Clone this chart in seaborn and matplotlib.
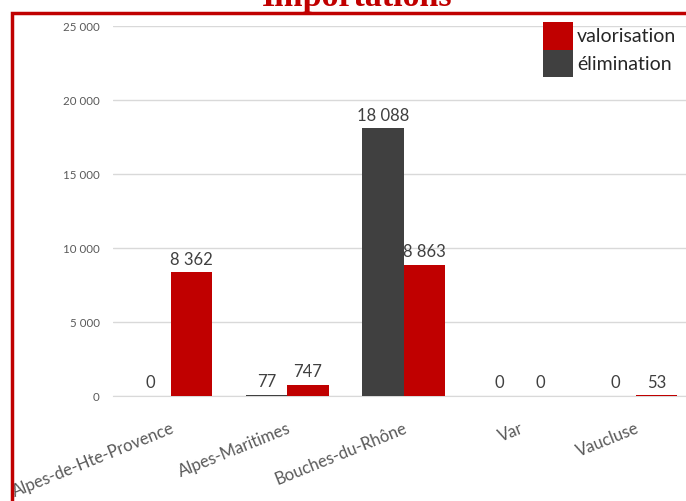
import numpy as np
import pandas as pd
import matplotlib
matplotlib.use('Agg')
import matplotlib.pyplot as plt
import seaborn as sns
from matplotlib.patches import Rectangle

categories = ['Alpes-de-Hte-Provence', 'Alpes-Maritimes', 'Bouches-du-Rhône', 'Var', 'Vaucluse']
elimination = [0, 77, 18088, 0, 0]
valorisation = [8362, 747, 8863, 0, 53]
y_ticks = [0, 5000, 10000, 15000, 20000, 25000]

df = pd.DataFrame({
    'departement': categories * 2,
    'type': ['élimination'] * len(categories) + ['valorisation'] * len(categories),
    'tonnes': elimination + valorisation,
})

RED = '#C00000'
GREY = '#404040'

sns.set_style('white')
plt.rcParams['font.family'] = ['Lato', 'DejaVu Sans']

fig = plt.figure(figsize=(6.86, 5.02), dpi=100)
# axes runs past the right edge, as in the cropped reference
ax = fig.add_axes([113 / 686, 1 - 397 / 502, 581 / 686, 370 / 502])

sns.barplot(data=df, x='departement', y='tonnes', hue='type',
            hue_order=['élimination', 'valorisation'],
            palette={'élimination': GREY, 'valorisation': RED}, saturation=1,
            width=0.71, gap=0, ax=ax, legend=False, zorder=3,
            linewidth=0, edgecolor='none')

fmt = lambda v: f"{v:,.0f}".replace(',', ' ')
for cont in ax.containers:
    ax.bar_label(cont, labels=[fmt(v) for v in cont.datavalues], padding=4,
                 fontsize=12, color=GREY)

ax.set_ylim(0, 25000)
ax.set_xlim(-0.5, 4.5)
ax.set_yticks(y_ticks)
ax.set_yticklabels([fmt(v) for v in y_ticks], fontsize=8.3, color='#595959')
ax.tick_params(axis='y', length=0, pad=9.5)
ax.tick_params(axis='x', length=0, pad=17)
plt.setp(ax.get_xticklabels(), rotation=22, ha='right', va='top', rotation_mode='anchor',
         fontsize=12, color='#595959')
ax.yaxis.grid(True, color='#D9D9D9', linewidth=1, zorder=0)
ax.set_axisbelow(True)
for s in ['top', 'right', 'left']:
    ax.spines[s].set_visible(False)
ax.spines['bottom'].set_color('#D9D9D9')
ax.set_xlabel('')
ax.set_ylabel('')

# legend drawn by hand: square swatches stacked with no gap
W, H = 686, 502
legend_items = [('valorisation', RED), ('élimination', GREY)]
for i, (lab, col) in enumerate(legend_items):
    top = 23 + i * 27.5
    fig.patches.append(Rectangle((543 / W, 1 - (top + 27.5) / H), 30 / W, 27.5 / H,
                                 transform=fig.transFigure, facecolor=col, edgecolor='none'))
    fig.text(577 / W, 1 - (top + 14) / H, lab, ha='left', va='center',
             fontsize=14, color='#262626')

fig.patches.append(Rectangle((12 / W, -0.1), 0.99, 1 - 14 / H + 0.1, transform=fig.transFigure,
                             fill=False, edgecolor=RED, linewidth=2.5, zorder=10))
fig.text(357 / W, 1 - 6 / H, 'Importations', ha='center', va='baseline',
         fontsize=24.5, fontweight='bold', color=RED, family='Liberation Serif')

plt.savefig('out.png', dpi=100)
